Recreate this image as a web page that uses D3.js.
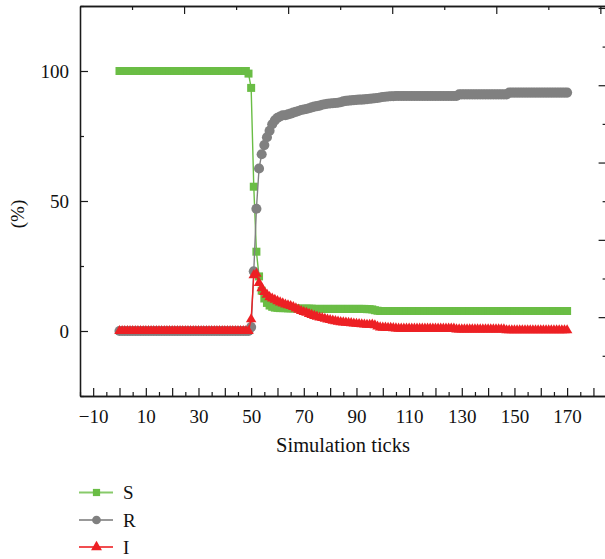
<!DOCTYPE html>
<html>
<head>
<meta charset="utf-8">
<script src="https://cdn.jsdelivr.net/npm/d3@7"></script>
<style>
  body { margin: 0; background: #fff; }
  svg { display: block; font-family: "Liberation Serif", "DejaVu Serif", serif; }
</style>
</head>
<body>
<div id="chart"></div>
<script>
// simulation ticks 0..170
const ticks = d3.range(0, 171);

const seriesNames = ['S', 'R', 'I'];

const sValues = [
  100, 100, 100, 100, 100, 100, 100, 100, 100, 100,
  100, 100, 100, 100, 100, 100, 100, 100, 100, 100,
  100, 100, 100, 100, 100, 100, 100, 100, 100, 100,
  100, 100, 100, 100, 100, 100, 100, 100, 100, 100,
  100, 100, 100, 100, 100, 100, 100, 100, 100, 99,
  93.5, 55.5, 30.5, 21, 15.5, 12.5, 10.8, 9.8, 9.3, 9.0,
  8.9, 8.8, 8.8, 8.8, 8.7, 8.7, 8.7, 8.7, 8.6, 8.6,
  8.6, 8.6, 8.6, 8.6, 8.5, 8.5, 8.5, 8.5, 8.5, 8.5,
  8.5, 8.5, 8.5, 8.5, 8.5, 8.5, 8.5, 8.5, 8.5, 8.5,
  8.5, 8.5, 8.5, 8.5, 8.4, 8.4, 8.3, 8.0, 7.8, 7.7,
  7.7, 7.7, 7.7, 7.7, 7.7, 7.7, 7.7, 7.7, 7.7, 7.7,
  7.7, 7.7, 7.7, 7.7, 7.7, 7.7, 7.7, 7.7, 7.7, 7.7,
  7.7, 7.7, 7.7, 7.7, 7.7, 7.7, 7.7, 7.7, 7.7, 7.7,
  7.7, 7.7, 7.7, 7.7, 7.7, 7.7, 7.7, 7.7, 7.7, 7.7,
  7.7, 7.7, 7.7, 7.7, 7.7, 7.7, 7.7, 7.7, 7.7, 7.7,
  7.7, 7.7, 7.7, 7.7, 7.7, 7.7, 7.7, 7.7, 7.7, 7.7,
  7.7, 7.7, 7.7, 7.7, 7.7, 7.7, 7.7, 7.7, 7.7, 7.7,
  7.7
];

const rValues = [
  0, 0, 0, 0, 0, 0, 0, 0, 0, 0,
  0, 0, 0, 0, 0, 0, 0, 0, 0, 0,
  0, 0, 0, 0, 0, 0, 0, 0, 0, 0,
  0, 0, 0, 0, 0, 0, 0, 0, 0, 0,
  0, 0, 0, 0, 0, 0, 0, 0, 0, 0,
  1.5, 23, 47, 62.5, 68, 71.5, 74.5, 77, 79.5, 81,
  82, 82.5, 83, 83, 83.3, 83.6, 84, 84.3, 84.6, 85,
  85.2, 85.4, 85.7, 86, 86.3, 86.5, 86.7, 87, 87.2, 87.4,
  87.5, 87.6, 87.7, 87.8, 88, 88.3, 88.5, 88.6, 88.7, 88.8,
  88.9, 89, 89, 89.1, 89.2, 89.3, 89.4, 89.5, 89.6, 89.8,
  90.0, 90.1, 90.2, 90.3, 90.3, 90.4, 90.4, 90.4, 90.4, 90.4,
  90.4, 90.4, 90.4, 90.4, 90.4, 90.4, 90.4, 90.4, 90.4, 90.4,
  90.4, 90.4, 90.4, 90.4, 90.4, 90.4, 90.4, 90.4, 90.4, 91.0,
  91.0, 91.0, 91.0, 91.0, 91.0, 91.0, 91.0, 91.0, 91.0, 91.0,
  91.0, 91.0, 91.0, 91.0, 91.0, 91.0, 91.0, 91.0, 91.7, 91.7,
  91.7, 91.7, 91.7, 91.7, 91.7, 91.7, 91.7, 91.7, 91.7, 91.7,
  91.7, 91.7, 91.7, 91.7, 91.7, 91.7, 91.7, 91.7, 91.7, 91.7,
  91.7
];

const iValues = [
  0, 0, 0, 0, 0, 0, 0, 0, 0, 0,
  0, 0, 0, 0, 0, 0, 0, 0, 0, 0,
  0, 0, 0, 0, 0, 0, 0, 0, 0, 0,
  0, 0, 0, 0, 0, 0, 0, 0, 0, 0,
  0, 0, 0, 0, 0, 0, 0, 0, 0, 0,
  4.5, 21.5, 22, 18.5, 16.5, 15, 14, 13, 12.5, 12,
  11.5, 11, 10.6, 10.2, 9.9, 9.6, 9.2, 8.7, 8.2, 7.7,
  7.3, 7, 6.6, 6.2, 5.8, 5.5, 5.2, 5, 4.7, 4.4,
  4.2, 4, 3.8, 3.6, 3.4, 3.3, 3.2, 3.1, 3, 2.9,
  2.8, 2.7, 2.6, 2.5, 2.4, 2.4, 2.5, 2.2, 1.7, 1.4,
  1.3, 1.3, 1.2, 1.2, 1.1, 1.0, 0.9, 0.9, 0.9, 0.9,
  0.9, 0.9, 0.9, 0.9, 0.9, 0.9, 0.9, 0.9, 0.9, 0.9,
  0.9, 0.9, 0.9, 0.9, 0.9, 0.9, 0.9, 0.9, 0.6, 0.6,
  0.6, 0.6, 0.6, 0.6, 0.6, 0.6, 0.6, 0.6, 0.6, 0.6,
  0.6, 0.6, 0.6, 0.6, 0.6, 0.6, 0.6, 0.3, 0.3, 0.3,
  0.3, 0.3, 0.3, 0.3, 0.3, 0.3, 0.3, 0.3, 0.3, 0.3,
  0.3, 0.3, 0.3, 0.3, 0.3, 0.3, 0.3, 0.3, 0.3, 0.3,
  0.3
];

// axis ticks
const xMajorTicks = [-10, 0, 10, 20, 30, 40, 50, 60, 70, 80, 90, 100, 110, 120, 130, 140, 150, 160, 170, 180];
const xMinorTicks = [-15, -5, 5, 15, 25, 35, 45, 55, 65, 75, 85, 95, 105, 115, 125, 135, 145, 155, 165, 175, 185];
const xTickLabels = [-10, 10, 30, 50, 70, 90, 110, 130, 150, 170];
const yMajorTicks = [0, 50, 100];
const yMinorTicks = [-25, 25, 75, 125];
// secondary (top / right) axes, their labels are outside the picture
const topMajorTicks = [0, 1, 2, 3, 4];
const topMinorTicks = [-0.5, 0.5, 1.5, 2.5, 3.5];
const rightMajorTicks = [0, 1, 2, 3, 4];
const rightMinorTicks = [-0.5, 0.5, 1.5, 2.5, 3.5];

const W = 605, H = 559;
const margin = {top: 6, left: 80};
const width = 526.6, height = 390;

const colors = {S: '#6abd45', R: '#808080', I: '#ed2024'};

const svg = d3.select('#chart').append('svg')
    .attr('width', W)
    .attr('height', H);

const g = svg.append('g')
    .attr('transform', `translate(${margin.left},${margin.top})`);

const x = d3.scaleLinear().domain([-15, 185]).range([0, width]);
const y = d3.scaleLinear().domain([-25, 125]).range([height, 0]);
const xTop = d3.scaleLinear().domain([-1, 4.06]).range([0, width]);
const yRight = d3.scaleLinear().domain([-1.02, 4.025]).range([height, 0]);

// axes
function styleAxis(sel) {
    sel.select('.domain').attr('stroke', '#1a1a1a').attr('stroke-width', 1.3);
    sel.selectAll('.tick line').attr('stroke', '#1a1a1a').attr('stroke-width', 1.2);
    sel.selectAll('text').attr('font-size', 19).attr('fill', '#111')
        .attr('font-family', '"Liberation Serif", serif');
}

const xAxis = g.append('g')
    .attr('transform', `translate(0,${height})`)
    .call(d3.axisBottom(x).tickValues(xMajorTicks).tickSize(-8).tickSizeOuter(0)
        .tickPadding(14)
        .tickFormat(d => xTickLabels.includes(d) ? d3.format('')(d) : ''));
styleAxis(xAxis);
const xAxisMinor = g.append('g')
    .attr('transform', `translate(0,${height})`)
    .call(d3.axisBottom(x).tickValues(xMinorTicks).tickSize(-4).tickSizeOuter(0).tickFormat(''));
styleAxis(xAxisMinor);

const yAxis = g.append('g')
    .call(d3.axisLeft(y).tickValues(yMajorTicks).tickSize(-8).tickSizeOuter(0).tickPadding(11));
styleAxis(yAxis);
const yAxisMinor = g.append('g')
    .call(d3.axisLeft(y).tickValues(yMinorTicks).tickSize(-4).tickSizeOuter(0).tickFormat(''));
styleAxis(yAxisMinor);

const topAxis = g.append('g')
    .call(d3.axisTop(xTop).tickValues(topMajorTicks).tickSize(-8).tickSizeOuter(0).tickFormat(''));
styleAxis(topAxis);
const topAxisMinor = g.append('g')
    .call(d3.axisTop(xTop).tickValues(topMinorTicks).tickSize(-4).tickSizeOuter(0).tickFormat(''));
styleAxis(topAxisMinor);

const rightAxis = g.append('g')
    .attr('transform', `translate(${width},0)`)
    .call(d3.axisRight(yRight).tickValues(rightMajorTicks).tickSize(-8).tickSizeOuter(0).tickFormat(''));
styleAxis(rightAxis);
const rightAxisMinor = g.append('g')
    .attr('transform', `translate(${width},0)`)
    .call(d3.axisRight(yRight).tickValues(rightMinorTicks).tickSize(-4).tickSizeOuter(0).tickFormat(''));
styleAxis(rightAxisMinor);

// axis titles
svg.append('text')
    .attr('x', 343)
    .attr('y', 452)
    .attr('text-anchor', 'middle')
    .attr('font-size', 20.5)
    .attr('fill', '#111')
    .text('Simulation ticks');

svg.append('text')
    .attr('transform', `translate(24,${margin.top + y(45)}) rotate(-90)`)
    .attr('text-anchor', 'middle')
    .attr('font-size', 19)
    .attr('fill', '#111')
    .text('(%)');

// series
const series = [
    {name: 'S', values: sValues, symbol: d3.symbolSquare, size: 64},
    {name: 'R', values: rValues, symbol: d3.symbolCircle, size: 80},
    {name: 'I', values: iValues, symbol: d3.symbolTriangle, size: 48}
];

const line = d3.line()
    .x(d => x(d[0]))
    .y(d => y(d[1]));

series.forEach(s => {
    const pts = ticks.map((t, i) => [t, s.values[i]]);
    const sg = g.append('g');
    sg.append('path')
        .datum(pts)
        .attr('fill', 'none')
        .attr('stroke', colors[s.name])
        .attr('stroke-width', 1.4)
        .attr('d', line);
    sg.selectAll('path.mark')
        .data(pts)
        .join('path')
        .attr('class', 'mark')
        .attr('transform', d => `translate(${x(d[0])},${y(d[1])})`)
        .attr('fill', colors[s.name])
        .attr('d', d3.symbol().type(s.symbol).size(s.size));
});

// legend
const legend = svg.append('g');
const legendRows = [492.5, 520, 547];
seriesNames.forEach((name, i) => {
    const s = series[i];
    const row = legend.append('g').attr('transform', `translate(0,${legendRows[i]})`);
    row.append('line')
        .attr('x1', 79).attr('x2', 113)
        .attr('stroke', colors[name])
        .attr('stroke-opacity', 0.8)
        .attr('stroke-width', 1.8);
    row.append('path')
        .attr('transform', 'translate(96.5,0)')
        .attr('fill', colors[name])
        .attr('d', d3.symbol().type(s.symbol).size(name === 'R' ? 60 : 52));
    row.append('text')
        .attr('x', 123)
        .attr('y', 6.5)
        .attr('font-size', 19)
        .attr('fill', '#111')
        .text(name);
});
</script>
</body>
</html>
